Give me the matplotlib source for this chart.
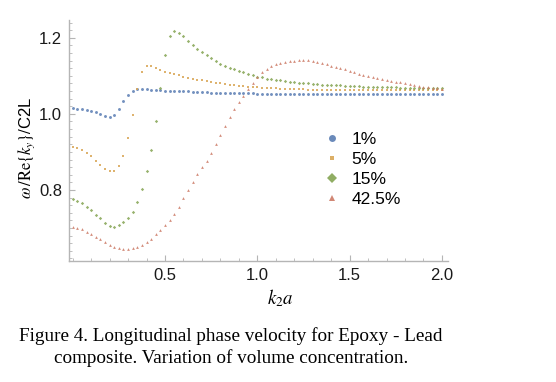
import numpy as np
import matplotlib.pyplot as plt
from matplotlib.ticker import MultipleLocator
from matplotlib.lines import Line2D

plt.rcParams['font.family'] = ['Liberation Sans', 'DejaVu Sans']
plt.rcParams['mathtext.fontset'] = 'stix'

# k2*a sample grid (0 to 2 in steps of 0.025)
k2a = np.linspace(0.0, 2.0, 81)

v_1 = [1.015, 1.014, 1.012, 1.011, 1.008, 1.004, 1.000, 0.995, 0.991, 0.997,
       1.012, 1.033, 1.051, 1.061, 1.065, 1.065, 1.065, 1.064, 1.063, 1.062,
       1.061, 1.061, 1.060, 1.060, 1.059, 1.059, 1.058, 1.058, 1.057, 1.057,
       1.056, 1.056, 1.056, 1.055, 1.055, 1.055, 1.054, 1.054, 1.054, 1.054,
       1.053, 1.053, 1.053, 1.053, 1.053, 1.053, 1.053, 1.053, 1.053, 1.053,
       1.053, 1.053, 1.053, 1.053, 1.053, 1.053, 1.053, 1.053, 1.053, 1.053,
       1.052, 1.052, 1.052, 1.052, 1.052, 1.052, 1.052, 1.052, 1.052, 1.052,
       1.052, 1.052, 1.052, 1.052, 1.052, 1.052, 1.052, 1.052, 1.052, 1.052,
       1.052]
v_5 = [0.912, 0.910, 0.905, 0.898, 0.888, 0.877, 0.866, 0.855, 0.850, 0.850,
       0.863, 0.890, 0.936, 0.997, 1.065, 1.110, 1.125, 1.125, 1.122, 1.116,
       1.111, 1.107, 1.104, 1.101, 1.098, 1.095, 1.093, 1.090, 1.088, 1.086,
       1.084, 1.082, 1.080, 1.078, 1.077, 1.075, 1.074, 1.073, 1.072, 1.071,
       1.070, 1.069, 1.068, 1.067, 1.067, 1.066, 1.066, 1.065, 1.065, 1.065,
       1.065, 1.064, 1.064, 1.064, 1.064, 1.064, 1.063, 1.063, 1.063, 1.063,
       1.063, 1.063, 1.062, 1.062, 1.062, 1.062, 1.062, 1.062, 1.062, 1.062,
       1.062, 1.062, 1.062, 1.062, 1.062, 1.062, 1.062, 1.062, 1.062, 1.062,
       1.062]
v_15 = [0.776, 0.772, 0.765, 0.756, 0.746, 0.735, 0.726, 0.714, 0.706, 0.703,
        0.707, 0.716, 0.726, 0.742, 0.767, 0.802, 0.849, 0.905, 0.980, 1.068,
        1.154, 1.206, 1.218, 1.214, 1.205, 1.193, 1.182, 1.172, 1.163, 1.154,
        1.146, 1.139, 1.132, 1.127, 1.122, 1.118, 1.113, 1.109, 1.104, 1.102,
        1.098, 1.097, 1.093, 1.091, 1.089, 1.088, 1.086, 1.085, 1.083, 1.082,
        1.081, 1.080, 1.079, 1.078, 1.077, 1.077, 1.076, 1.075, 1.075, 1.074,
        1.074, 1.073, 1.073, 1.072, 1.072, 1.071, 1.071, 1.071, 1.070, 1.070,
        1.070, 1.069, 1.069, 1.069, 1.069, 1.068, 1.068, 1.068, 1.068, 1.067,
        1.067]
v_42 = [0.703, 0.700, 0.696, 0.690, 0.684, 0.677, 0.670, 0.662, 0.656, 0.651,
        0.646, 0.644, 0.644, 0.646, 0.650, 0.656, 0.663, 0.672, 0.683, 0.694,
        0.707, 0.721, 0.737, 0.756, 0.779, 0.801, 0.822, 0.841, 0.859, 0.877,
        0.897, 0.920, 0.944, 0.968, 0.991, 1.012, 1.031, 1.047, 1.065, 1.082,
        1.098, 1.109, 1.118, 1.125, 1.130, 1.133, 1.136, 1.138, 1.140, 1.141,
        1.142, 1.141, 1.140, 1.137, 1.134, 1.130, 1.127, 1.123, 1.120, 1.117,
        1.113, 1.110, 1.106, 1.103, 1.100, 1.097, 1.094, 1.092, 1.089, 1.087,
        1.085, 1.083, 1.081, 1.078, 1.076, 1.074, 1.072, 1.070, 1.068, 1.067,
        1.066]

labels = ['1%', '5%', '15%', '42.5%']
colors = ['#5a7db3', '#d9a656', '#84a452', '#cc7a66']
markers = ['o', 's', 'D', '^']
msizes = [2.1, 1.6, 1.7, 2.0]
leg_sizes = [5.0, 3.4, 4.6, 4.6]

fig = plt.figure(figsize=(5.56, 3.82), dpi=100)
ax = fig.add_axes([69 / 556, 1 - 261 / 382, 379 / 556, 241 / 382])

for vals, c, m, ms in zip([v_1, v_5, v_15, v_42], colors, markers, msizes):
    ax.plot(k2a, vals, linestyle='none', marker=m, ms=ms, color=c,
            markeredgewidth=0, alpha=0.85)

ax.set_xlim(-0.02, 2.033)
ax.set_ylim(0.613, 1.247)
ax.set_xticks([0.5, 1.0, 1.5, 2.0])
ax.set_yticks([0.8, 1.0, 1.2])
ax.xaxis.set_minor_locator(MultipleLocator(0.1))
ax.yaxis.set_minor_locator(MultipleLocator(0.02))

for s in ['top', 'right']:
    ax.spines[s].set_visible(False)
for s in ['left', 'bottom']:
    ax.spines[s].set_color('#b5b5b5')
    ax.spines[s].set_linewidth(1.0)

ax.tick_params(which='both', direction='in', color='#b5b5b5', labelsize=12,
               labelcolor='#1a1a1a')
ax.tick_params(which='major', length=4, width=0.8, pad=5)
ax.tick_params(which='minor', length=2, width=0.6)

ax.set_xlabel(r'$k_2a$', fontsize=13.5)
ax.xaxis.set_label_coords(0.557, -0.11)
ax.set_ylabel(r'$\omega\,/\mathrm{Re}\{k_y\}/$C2L', fontsize=12)
ax.yaxis.set_label_coords(-0.085, 0.47)

handles = [Line2D([], [], linestyle='none', marker=m, ms=s, color=c,
                  markeredgewidth=0, alpha=0.9)
           for m, s, c in zip(markers, leg_sizes, colors)]
ax.legend(handles, labels, frameon=False, loc='upper left',
          bbox_to_anchor=(0.635, 0.6), fontsize=12.5, handlelength=0.8,
          handletextpad=0.7, labelspacing=0.28)

fig.text(231 / 556, 1 - 347 / 382,
         'Figure 4. Longitudinal phase velocity for Epoxy - Lead\n'
         'composite. Variation of volume concentration.',
         ha='center', va='center', ma='center', linespacing=1.3,
         fontsize=13.8, family='Liberation Serif')

fig.savefig('out.png', dpi=100)
